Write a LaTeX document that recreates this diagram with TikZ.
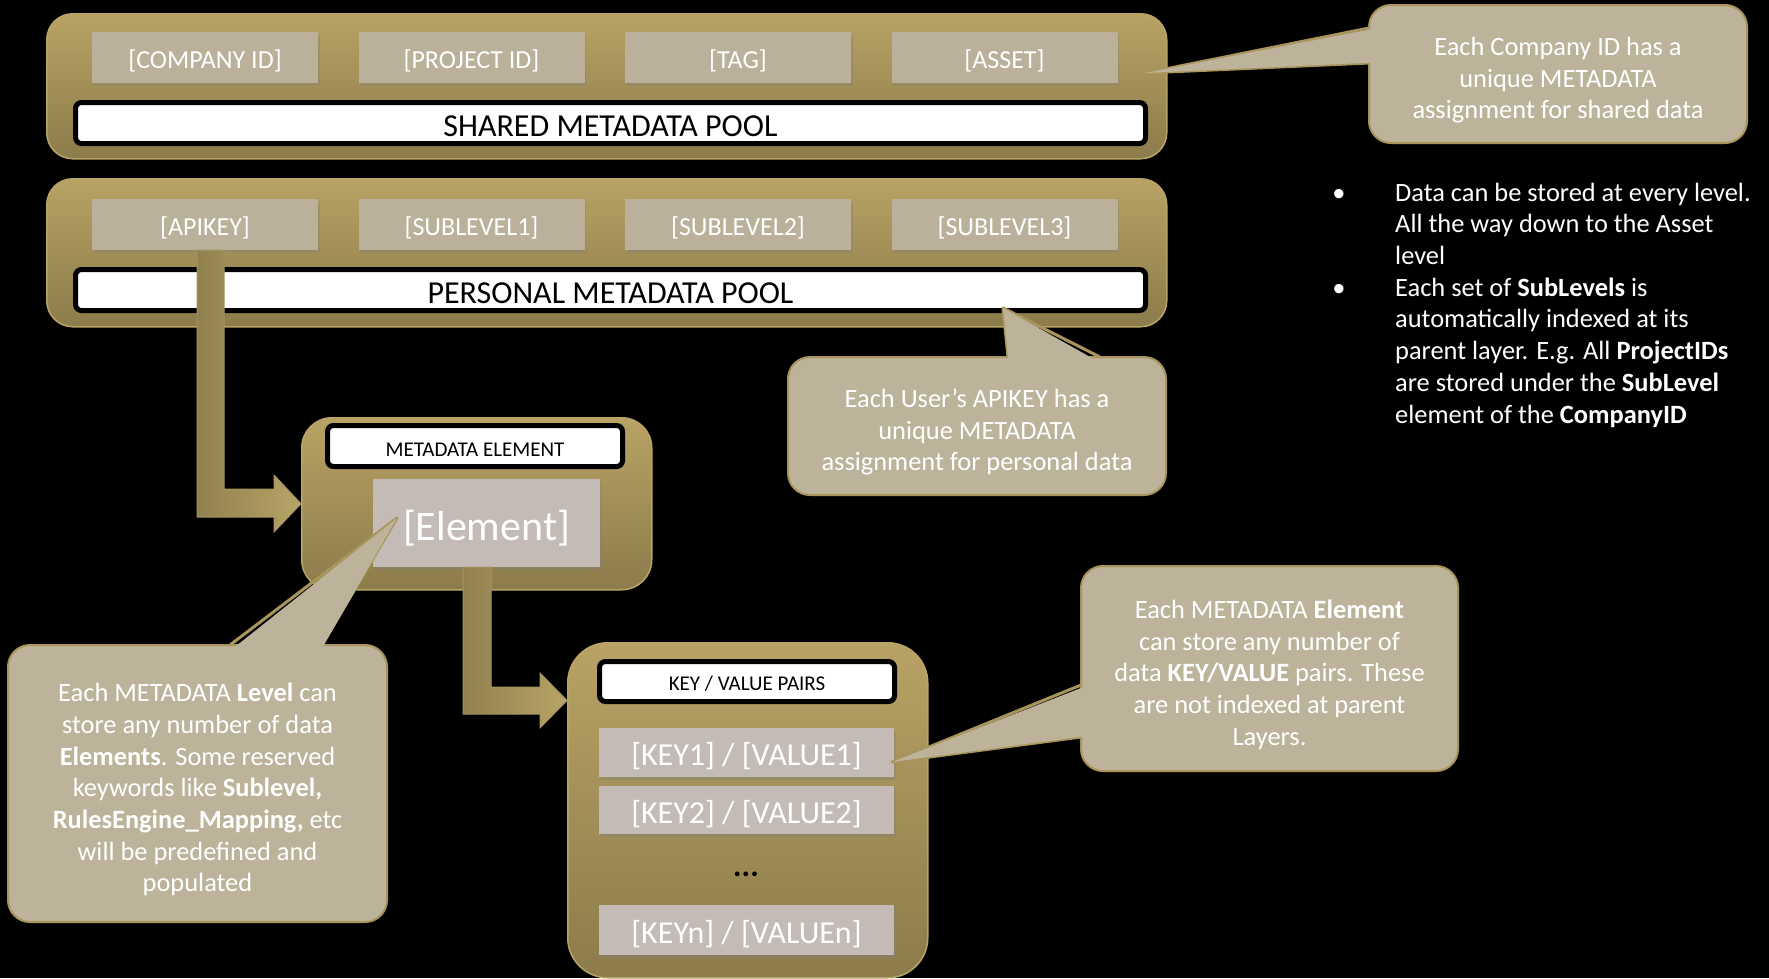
\documentclass[tikz,border=0pt]{standalone}
\usepackage{fontspec}
\setmainfont{Carlito}
\usetikzlibrary{shadows}
\definecolor{goldtop}{HTML}{B8A264}
\definecolor{goldbot}{HTML}{8C7C4B}
\definecolor{goldedge}{HTML}{B9A467}
\definecolor{itemfill}{HTML}{BBB19A}
\definecolor{elemfill}{HTML}{C4BBB6}
\definecolor{callfill}{HTML}{BDB39A}
\definecolor{callborder}{HTML}{A8955C}
\definecolor{arrdark}{HTML}{908150}
\definecolor{arrlight}{HTML}{B8A466}
\definecolor{arredge}{HTML}{A59460}
\newcommand\fsbody{\fontsize{26.4}{31.7}\selectfont}
\newcommand\fsitem{\fontsize{26}{31}\selectfont}
\newcommand\fsbar{\fontsize{32}{38}\selectfont}
\newcommand\fssmall{\fontsize{21}{25}\selectfont}
\newcommand\fselem{\fontsize{42}{50}\selectfont}
\newcommand\fskv{\fontsize{32}{38}\selectfont}
\newcommand\firstline{\rule{0pt}{31pt}}
\begin{document}
\begin{tikzpicture}[x=1pt,y=-1pt,
  pool/.style={draw=goldedge, line width=1.5, top color=goldtop, bottom color=goldbot, inner sep=0, anchor=north west},
  itembox/.style={fill=itemfill, minimum width=226, minimum height=51, inner sep=0, text=white, font=\fsitem,
    text height=21.4, text depth=0,
    drop shadow={shadow xshift=1.5pt, shadow yshift=-2.5pt, opacity=0.35}},
  bar/.style={fill=white, draw=black, line width=5, rounded corners=6, inner sep=0, text=black, text depth=0},
  elembox/.style={fill=elemfill, inner sep=0, text=white, text depth=0,
    drop shadow={shadow xshift=1.5pt, shadow yshift=-2.5pt, opacity=0.35}},
  blockarrow/.style={left color=arrdark, right color=arrlight, draw=arredge, line width=1},
  callout/.style={fill=callfill, draw=callborder, line width=2, rounded corners=22, inner sep=0, text=white, font=\fsbody, align=center},
  pointerline/.style={draw=callborder, line width=3, line join=round},
  pointerfill/.style={fill=callfill},
  bodytext/.style={text=white, font=\fsbody, inner sep=0}
]
\useasboundingbox (0,0) rectangle (1769,978);
\fill[black] (0,0) rectangle (1769,978);

% ---------- Shared pool ----------
\node[pool, rounded corners=26, minimum width=1120, minimum height=145] (shared) at (46,13) {};
\node[itembox] (company) at (205,57.5) {[COMPANY ID]};
\node[itembox] (project) at (471.5,57.5) {[PROJECT ID]};
\node[itembox] (tag) at (738,57.5) {[TAG]};
\node[itembox] (asset) at (1004.5,57.5) {[ASSET]};
\node[bar, minimum width=1070, minimum height=41, font=\fsbar, text height=27.4] (sharedbar) at (610.5,123) {SHARED METADATA POOL};

% ---------- Personal pool ----------
\node[pool, rounded corners=26, minimum width=1120, minimum height=148] (personal) at (46,178) {};
\node[itembox] (apikey) at (205,224.5) {[APIKEY]};
\node[itembox] (sub1) at (471.5,224.5) {[SUBLEVEL1]};
\node[itembox] (sub2) at (738,224.5) {[SUBLEVEL2]};
\node[itembox] (sub3) at (1004.5,224.5) {[SUBLEVEL3]};
\node[bar, minimum width=1070, minimum height=41, font=\fsbar, text height=27.4] (personalbar) at (610.5,290) {PERSONAL METADATA POOL};

% ---------- Metadata element ----------
\node[pool, rounded corners=30, minimum width=350, minimum height=172] (metabox) at (301,417) {};
\node[bar, minimum width=295, minimum height=41, font=\fssmall, text height=20.4] (metatitle) at (475,446) {METADATA ELEMENT};
\node[elembox, minimum width=227, minimum height=88, font=\fselem, text height=35] (element) at (486.5,523) {[Element]};

% ---------- Key / value pairs ----------
\node[pool, rounded corners=40, minimum width=360, minimum height=335] (kvbox) at (567,642) {};
\node[bar, minimum width=295, minimum height=40, font=\fssmall, text height=18] (kvtitle) at (747,681.5) {KEY / VALUE PAIRS};
\node[elembox, minimum width=295, minimum height=49, font=\fskv, text height=26] (kv1) at (746.5,752.5) {[KEY1] / [VALUE1]};
\node[elembox, minimum width=295, minimum height=48, font=\fskv, text height=26] (kv2) at (746.5,810) {[KEY2] / [VALUE2]};
\node[font=\fskv, text=black, inner sep=0] (dots) at (746,874) {\textbf{...}};
\node[elembox, minimum width=295, minimum height=50, font=\fskv, text height=26] (kvn) at (746.5,930) {[KEYn] / [VALUEn]};

% ---------- Block arrows ----------
\path[blockarrow] (197,250) -- (224,250) -- (224,489) -- (274,489) -- (274,475) -- (metabox.west)
  -- (274,532) -- (274,517) -- (197,517) -- cycle;
\path[blockarrow] (463,567) -- (491,567) -- (491,687) -- (540,687) -- (540,673) -- (kvbox.west |- 0,700.5)
  -- (540,728) -- (540,714) -- (463,714) -- cycle;

% ---------- Callout 1 ----------
\coordinate (c1tip) at (1145,73);
\coordinate (c1a) at (1369,28);
\coordinate (c1b) at (1369,63);
\path[pointerline] (c1a) -- (c1tip) -- (c1b);
\node[callout, minimum width=378, minimum height=138] (c1) at (1558,74)
  {\firstline Each Company ID has a\\unique METADATA\\assignment for shared data};
\fill[pointerfill] (1374,28.5) -- (c1tip) -- (1374,62.5) -- cycle;

% ---------- Callout 2 ----------
\coordinate (c2tip) at (1003,308);
\coordinate (c2a) at (1008,357);
\coordinate (c2b) at (1100,357);
\path[pointerline] (c2a) -- (c2tip) -- (c2b);
\node[callout, minimum width=378, minimum height=138] (c2) at (977,426)
  {\firstline Each User’s APIKEY has a\\unique METADATA\\assignment for personal data};
\fill[pointerfill] (1008.5,362) -- (c2tip) -- (1099,362) -- cycle;

% ---------- Callout 3 ----------
\coordinate (c3tip) at (397,518);
\coordinate (c3a) at (230,645);
\coordinate (c3b) at (322,645);
\path[pointerline] (c3a) -- (c3tip) -- (c3b);
\node[callout, minimum width=379, minimum height=277] (c3) at (197.5,783.5)
  {\firstline Each METADATA \textbf{Level} can\\store any number of data\\\textbf{Elements}. Some reserved\\keywords like \textbf{Sublevel,}\\\textbf{RulesEngine\_Mapping,} etc\\will be predefined and\\populated};
\fill[pointerfill] (231,650) -- (c3tip) -- (321,650) -- cycle;

% ---------- Callout 4 ----------
\coordinate (c4tip) at (892,762);
\coordinate (c4a) at (1081,685);
\coordinate (c4b) at (1081,737);
\path[pointerline] (c4a) -- (c4tip) -- (c4b);
\node[callout, minimum width=377, minimum height=205] (c4) at (1269.5,668.5)
  {\firstline Each METADATA \textbf{Element}\\can store any number of\\data \textbf{KEY/VALUE} pairs. These\\are not indexed at parent\\Layers.};
\fill[pointerfill] (1086,686) -- (c4tip) -- (1086,736) -- cycle;

% ---------- Bullets ----------
\node[bodytext, anchor=base] (bullet1) at (1339,201) {\textbullet};
\node[bodytext, anchor=base] (bullet2) at (1339,296) {\textbullet};
\node[bodytext, anchor=base west, align=left] (bullettext) at (1395,423)
  {Data can be stored at every level.\\All the way down to the Asset\\level\\Each set of \textbf{SubLevels} is\\automatically indexed at its\\parent layer. E.g. All \textbf{ProjectIDs}\\are stored under the \textbf{SubLevel}\\element of the \textbf{CompanyID}};
\end{tikzpicture}
\end{document}
